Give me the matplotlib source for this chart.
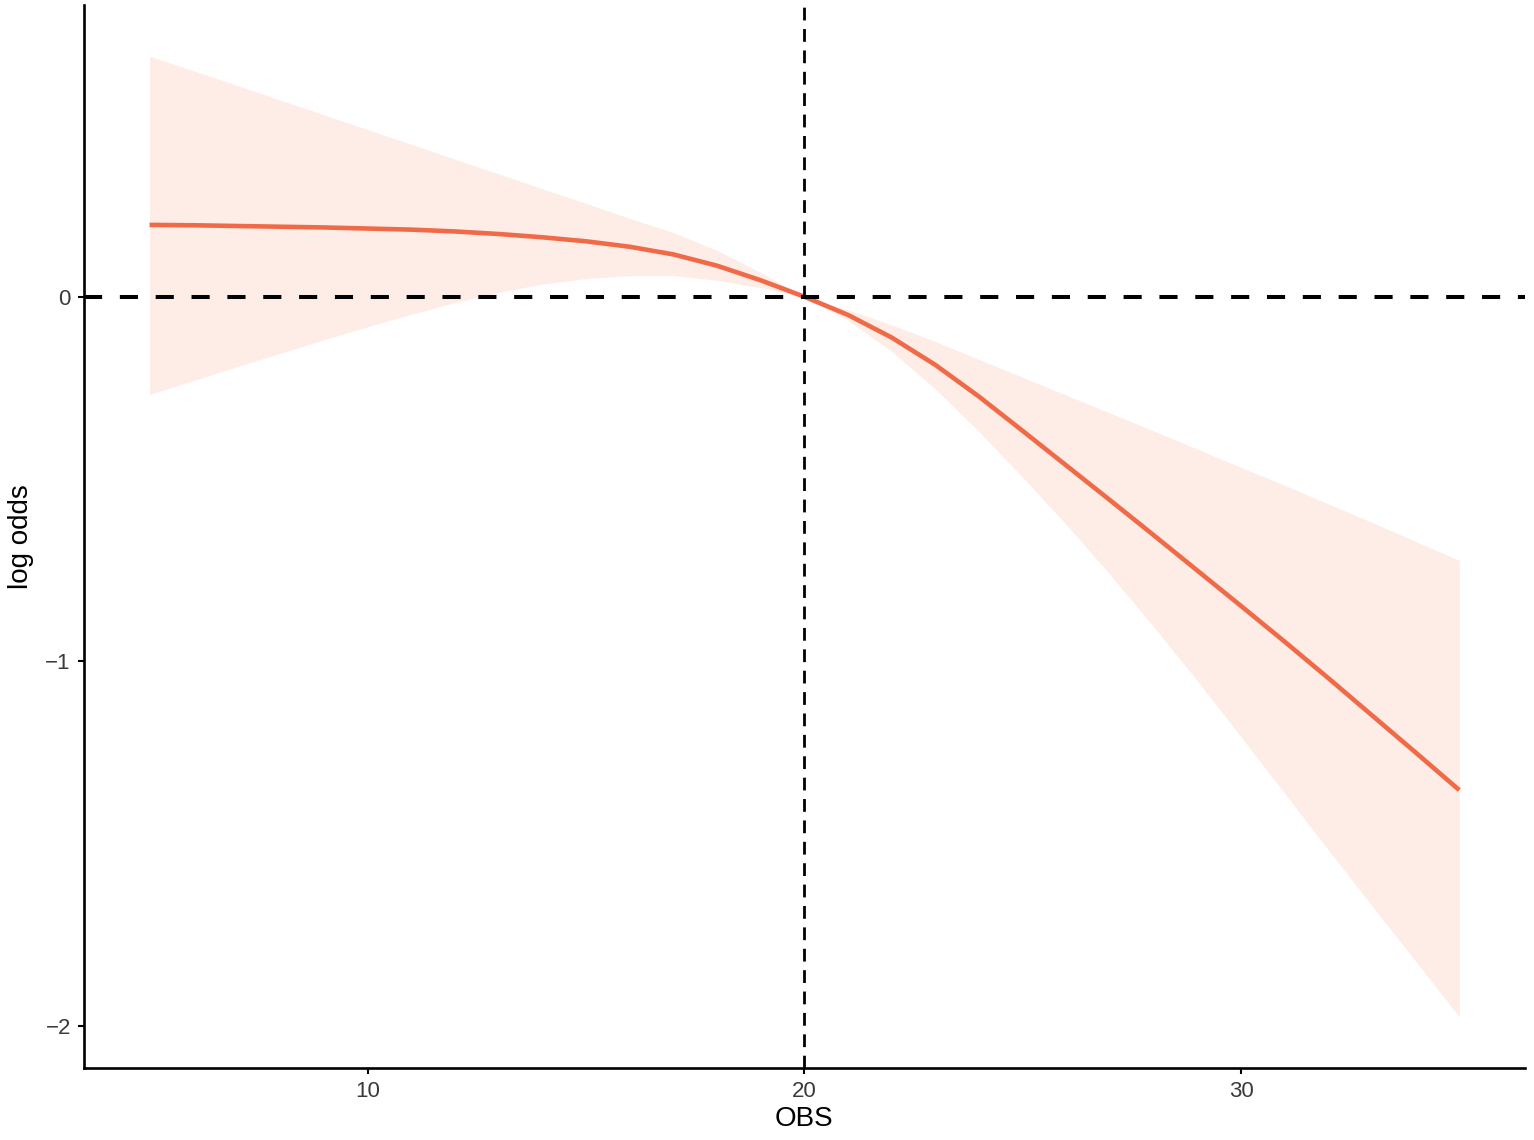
import matplotlib
matplotlib.use("Agg")
import matplotlib.pyplot as plt

plt.rcParams['font.family'] = ['Liberation Sans', 'DejaVu Sans']

obs = [5, 6, 7, 8, 9, 10, 11, 12, 13, 14, 15, 16, 17, 18, 19, 20,
       21, 22, 23, 24, 25, 26, 27, 28, 29, 30, 31, 32, 33, 34, 35]
logOdds = [0.197, 0.196, 0.194, 0.192, 0.190, 0.187, 0.184, 0.179, 0.172, 0.163,
           0.152, 0.137, 0.116, 0.085, 0.045, 0.000,
           -0.050, -0.112, -0.187, -0.274, -0.368, -0.463, -0.558, -0.654, -0.751,
           -0.848, -0.946, -1.046, -1.148, -1.250, -1.353]
upper = [0.660, 0.620, 0.580, 0.539, 0.499, 0.458, 0.418, 0.377, 0.337, 0.296,
         0.256, 0.215, 0.176, 0.127, 0.066, 0.000,
         -0.036, -0.077, -0.123, -0.172, -0.221, -0.270, -0.319, -0.368, -0.418,
         -0.468, -0.517, -0.568, -0.619, -0.671, -0.723]
lower = [-0.268, -0.230, -0.192, -0.155, -0.118, -0.082, -0.048, -0.016, 0.012, 0.035,
         0.050, 0.058, 0.058, 0.045, 0.025, 0.000,
         -0.065, -0.150, -0.253, -0.370, -0.495, -0.625, -0.762, -0.905, -1.053,
         -1.207, -1.362, -1.517, -1.670, -1.822, -1.975]
refX = 20
refY = 0

fig = plt.figure(figsize=(15.34, 11.40), dpi=100)
ax = fig.add_axes([0.0548, 0.0632, 0.9392, 0.9324])

ax.fill_between(obs, lower, upper, color="#FDEDE6", linewidth=0, zorder=1)
ax.plot(obs, logOdds, color="#F06A48", linewidth=3.3, zorder=3,
        solid_capstyle="butt", solid_joinstyle="round")
ax.axhline(refY, color="black", linewidth=2.9, dashes=(4.5, 4.4), zorder=4)
ax.axvline(refX, color="black", linewidth=2.0, dashes=(4.6, 3.1), zorder=4)

ax.set_xlim(3.5, 36.5)
ax.set_ylim(-2.115, 0.8)
ax.set_xticks([10, 20, 30])
ax.set_yticks([0, -1, -2])
ax.set_yticklabels(["0", "\u22121", "\u22122"])

for side in ["top", "right"]:
    ax.spines[side].set_visible(False)
for side in ["left", "bottom"]:
    ax.spines[side].set_linewidth(1.9)
ax.tick_params(axis="both", length=4.5, width=1.5, labelsize=16, colors="black",
               labelcolor="#3a3a3a", pad=5)

ax.set_xlabel("OBS", fontsize=20, labelpad=3)
ax.set_ylabel("log odds", fontsize=20, labelpad=8)

fig.savefig("out.png", dpi=100)
